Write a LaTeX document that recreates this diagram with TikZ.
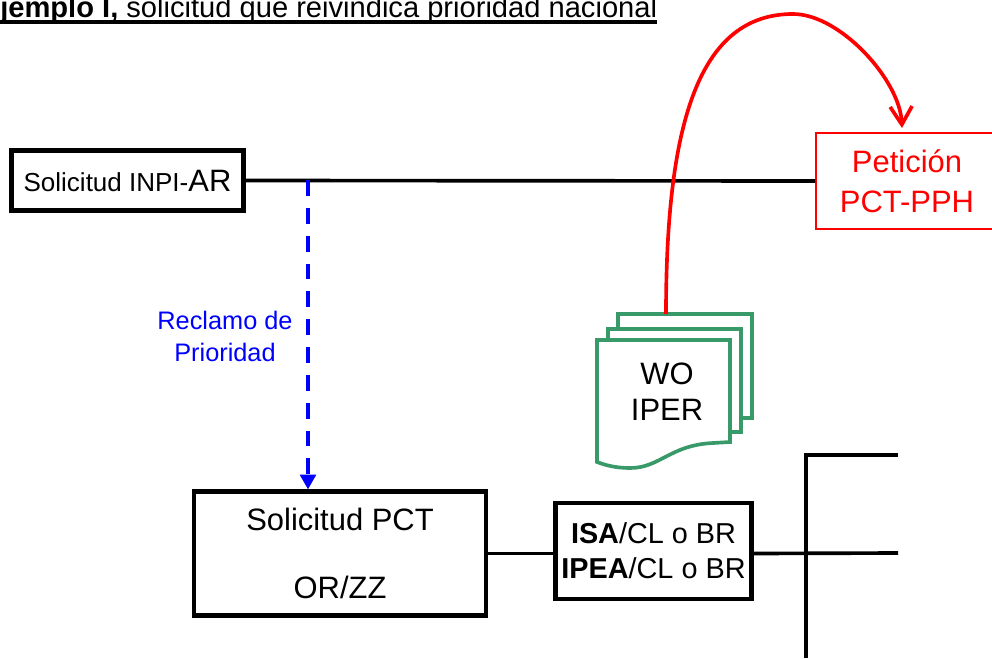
\documentclass[tikz,border=0pt]{standalone}
\usepackage{fontspec}
\setmainfont{Liberation Sans}
\usetikzlibrary{arrows.meta}
\definecolor{docgreen}{RGB}{56,154,104}

\begin{document}
\begin{tikzpicture}[x=0.025cm, y=-0.025cm,
    box/.style = {draw, line width=2.9pt, align=center, inner sep=0pt},
    conn/.style = {line width=2.6pt},
    pphbox/.style = {draw=red, line width=1.4pt, text=red, align=center, inner sep=0pt},
    sheet/.style = {draw=docgreen, line width=2.6pt, fill=white}]
    \useasboundingbox (0,0) rectangle (992,658);
    \node[anchor=base west, inner sep=0pt, font=\fontsize{20.7}{24}\selectfont] (title) at (0,17)
        {\textbf{jemplo I,} solicitud que reivindica prioridad nacional};
    \draw[line width=2.4pt] ([yshift=-3.5pt]title.base west) -- ([yshift=-3.5pt]title.base east);
    \node[box, minimum width=5.8cm, minimum height=1.5cm] (inpi) at (127.5,180.5)
        {{\fontsize{18.5}{22}\selectfont Solicitud INPI-}{\fontsize{22}{24}\selectfont AR}};
    \node[pphbox, minimum width=4.55cm, minimum height=2.4cm, font=\fontsize{22}{28.4}\selectfont] (pph) at (907,181)
        {Petición\\PCT-PPH};
    \node[box, minimum width=7.3cm, minimum height=3.1cm, font=\fontsize{22}{48}\selectfont] (pct) at (340,553.5)
        {Solicitud PCT\\OR/ZZ};
    \node[box, minimum width=4.9cm, minimum height=2.42cm, font=\fontsize{20.5}{24.8}\selectfont] (isa) at (653.5,551)
        {\textbf{ISA}/CL o BR\\\textbf{IPEA}/CL o BR};
    \node[text=blue, align=center, font=\fontsize{18}{22.7}\selectfont] (prio) at (225,336)
        {Reclamo de\\Prioridad};
    \draw[sheet] (618,314) rectangle (752,418);
    \draw[sheet] (608,329) rectangle (741,432);
    \draw[sheet] (597,340) -- (730,340) -- (730,442) -- (713,443)
        .. controls (670,445) and (660,468) .. (630,468)
        .. controls (615,468) and (605,465) .. (597,462) -- cycle;
    \node[align=center, font=\fontsize{22}{25.5}\selectfont] (wo) at (667,392) {WO\\IPER};
    \coordinate (branch) at (308,180);
    \coordinate (doctop) at (666,314);
    \coordinate (pphin) at (902,128);
    \coordinate (busTop) at (806,455);
    \coordinate (busBot) at (806,658);
    \coordinate (endA) at (898,455);
    \coordinate (endB) at (898,553);
    \draw[conn] (inpi.east) -- (pph.west);
    \draw[conn] (pct.east) -- (isa.west |- pct.east);
    \draw[conn] (isa.east |- pct.east) -- (endB);
    \draw[conn] (busBot) -- (busTop) -- (endA);
    \draw[blue, line width=3.2pt, dash pattern=on 11.3pt off 8.5pt, -{Triangle[length=10.5pt,width=11pt]}]
        (branch) -- (branch |- pct.north);
    \draw[red, line width=2.6pt, -{Straight Barb[length=4.5mm,width=5.5mm]}]
        (doctop) .. controls (666,120) and (700,14) .. (793,14)
        .. controls (840,14) and (900,80) .. (pphin);
\end{tikzpicture}
\end{document}
